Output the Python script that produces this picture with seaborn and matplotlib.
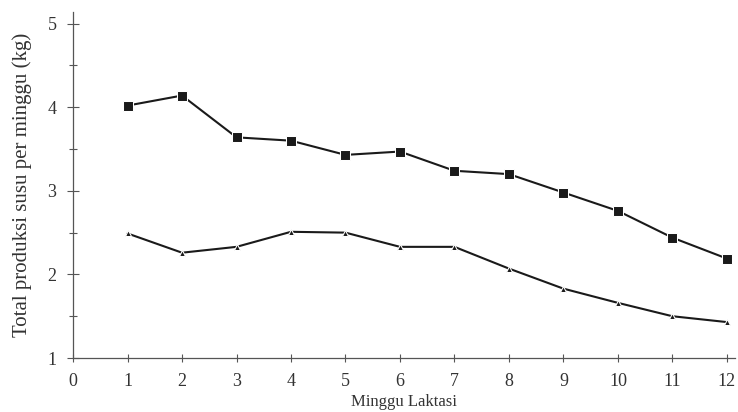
import matplotlib
matplotlib.use("Agg")
import matplotlib.pyplot as plt
import seaborn as sns
import pandas as pd
from matplotlib.ticker import MultipleLocator

weeks = [1, 2, 3, 4, 5, 6, 7, 8, 9, 10, 11, 12]
produksi_a = [4.02, 4.14, 3.64, 3.60, 3.43, 3.47, 3.24, 3.20, 2.98, 2.76, 2.44, 2.19]
produksi_b = [2.49, 2.26, 2.33, 2.51, 2.50, 2.33, 2.33, 2.07, 1.83, 1.66, 1.50, 1.43]
x_ticks = list(range(0, 13))
y_ticks = [1, 2, 3, 4, 5]

df = pd.DataFrame({
    "minggu": weeks * 2,
    "produksi": produksi_a + produksi_b,
    "kelompok": ["A"] * len(weeks) + ["B"] * len(weeks),
})

sns.set_theme(style="white")
plt.rcParams["font.family"] = ["Liberation Serif", "DejaVu Serif"]

fig = plt.figure(figsize=(7.38, 4.12), dpi=100)
ax = fig.add_axes([0.099, 0.131, 0.897, 0.84])

sns.lineplot(data=df, x="minggu", y="produksi", hue="kelompok", style="kelompok",
             markers={"A": "s", "B": "^"}, dashes=False,
             palette={"A": "#1a1a1a", "B": "#1a1a1a"},
             markersize=6, linewidth=1.5, legend=False, ax=ax)
for line, ms in zip(ax.lines, [7, 5]):
    line.set_markersize(ms)

ax.set_xlim(0, 12.15)
ax.set_ylim(1, 5.14)
ax.set_xticks(x_ticks)
ax.set_yticks(y_ticks)
ax.yaxis.set_minor_locator(MultipleLocator(0.5))
ax.tick_params(axis="both", which="both", direction="inout", color="#555555",
               bottom=True, left=True, width=0.8, labelsize=13, labelcolor="#333333")
ax.tick_params(axis="y", which="major", length=8, pad=8)
ax.tick_params(axis="y", which="minor", length=6)
ax.tick_params(axis="x", which="major", length=6, pad=8)

for side in ["top", "right"]:
    ax.spines[side].set_visible(False)
for side in ["left", "bottom"]:
    ax.spines[side].set_color("#555555")
    ax.spines[side].set_linewidth(0.9)

ax.set_xlabel("Minggu Laktasi", fontsize=12, color="#333333", labelpad=3)
ax.set_ylabel("Total produksi susu per minggu (kg)", fontsize=15, color="#333333", labelpad=11)

fig.savefig("out.png", dpi=100)
